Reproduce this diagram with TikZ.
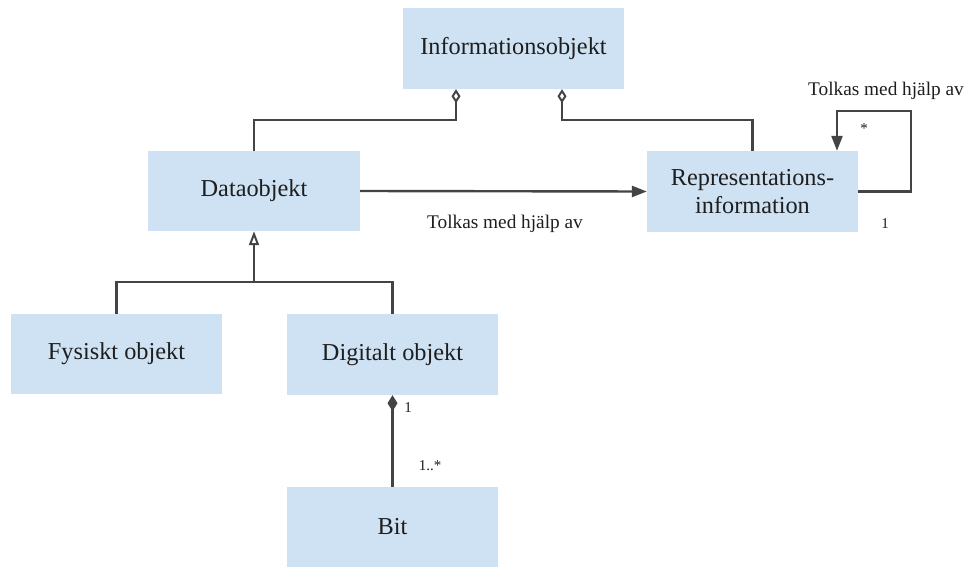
\documentclass[tikz,border=0pt]{standalone}
\usepackage{fontspec}
\setmainfont{Liberation Serif}
\usetikzlibrary{arrows.meta,calc}
\definecolor{boxfill}{HTML}{CFE2F3}
\definecolor{linecol}{HTML}{444444}
\definecolor{txt}{HTML}{1E1E1E}
\tikzset{
  cls/.style={fill=boxfill, draw=none, inner sep=0pt, align=center, text=txt,
    font=\fontsize{24.3}{28}\selectfont},
  conn/.style={draw=linecol, line width=2.4pt},
  lbl/.style={text=txt, font=\fontsize{19.3}{22}\selectfont, inner sep=0pt},
  mult/.style={text=txt, font=\fontsize{15}{17}\selectfont, inner sep=0pt},
  aggr/.style={conn, -{Diamond[open, length=14pt, width=9pt, line width=2pt]}},
  comp/.style={conn, -{Diamond[length=16pt, width=10pt, fill=linecol]}},
  gen/.style={conn, -{Triangle[open, length=14pt, width=10pt, line width=2pt]}},
  assoc/.style={conn, -{Triangle[length=15pt, width=11pt, fill=linecol]}},
}
\begin{document}
\begin{tikzpicture}[x=1pt, y=-1pt]
  \useasboundingbox (0,0) rectangle (966,567);

  % classes
  \node[cls, minimum width=221pt, minimum height=81pt] (info) at (513.5,48.5) {Informationsobjekt};
  \node[cls, minimum width=212pt, minimum height=80pt] (dobj) at (254,191) {Dataobjekt};
  \node[cls, minimum width=211pt, minimum height=81pt] (repr) at (752.5,191.5) {Representations-\\information};
  \node[cls, minimum width=211pt, minimum height=80pt] (fys) at (116.5,354) {Fysiskt objekt};
  \node[cls, minimum width=211pt, minimum height=81pt] (dig) at (392.5,354.5) {Digitalt objekt};
  \node[cls, minimum width=211pt, minimum height=80pt] (bit) at (392.5,527) {Bit};

  % aggregation into Informationsobjekt
  \coordinate (a1) at ($(info.south)+(-57.5,0)$);
  \coordinate (a2) at ($(info.south)+(48.5,0)$);
  \draw[aggr] (dobj.north) |- ($(a1)+(0,31)$) -- (a1);
  \draw[aggr] (repr.north) |- ($(a2)+(0,31)$) -- (a2);

  % association Dataobjekt -> Representationsinformation
  \draw[assoc] (dobj.east) -- (repr.west);
  \node[lbl] (tl1) at (505,224) {Tolkas med hjälp av};

  % self association of Representationsinformation
  \draw[assoc] (repr.east) -| ($(repr.north east)+(53,-40)$) -| ($(repr.north)+(84.5,0)$);
  \node[lbl] (tl2) at (886,91) {Tolkas med hjälp av};
  \node[mult] (m1) at (864,129) {*};
  \node[mult] (m2) at (885,224) {1};

  % generalisation
  \coordinate (j) at ($(dobj.south)+(0,51)$);
  \draw[conn] (fys.north) -- (fys.north |- j) -- (dig.north |- j) -- (dig.north);
  \draw[gen] (j) -- (dobj.south);

  % composition Bit -> Digitalt objekt
  \draw[comp] (bit.north) -- (dig.south);
  \node[mult] (m3) at (408,408) {1};
  \node[mult] (m4) at (430,466) {1..*};
\end{tikzpicture}
\end{document}
